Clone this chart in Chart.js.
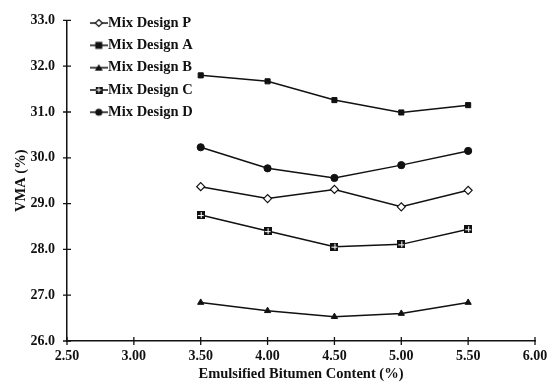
<!DOCTYPE html>
<html>
<head>
<meta charset="utf-8">
<script src="https://cdn.jsdelivr.net/npm/chart.js@4"></script>
<style>
  html, body { margin: 0; padding: 0; background: #fff; }
  #wrap { width: 555px; height: 386px; }
</style>
</head>
<body>
<div id="wrap"><canvas id="vmaChart"></canvas></div>
<script>
// data
const binderContent = [3.5, 4.0, 4.5, 5.0, 5.5];
const mixP = [29.37, 29.11, 29.31, 28.93, 29.29];
const mixA = [31.80, 31.67, 31.26, 30.99, 31.15];
const mixB = [26.84, 26.66, 26.53, 26.60, 26.84];
const mixC = [28.75, 28.40, 28.06, 28.11, 28.44];
const mixD = [30.23, 29.77, 29.56, 29.84, 30.15];
const seriesNames = ["Mix Design P", "Mix Design A", "Mix Design B", "Mix Design C", "Mix Design D"];

const ink = "#111";
const font = "'Liberation Serif', 'Times New Roman', serif";

// marker for Mix Design C: black square with a white cross
function gridSquare(size) {
    const c = document.createElement("canvas");
    c.width = size; c.height = size;
    const g = c.getContext("2d");
    g.fillStyle = ink;
    g.fillRect(0, 0, size, size);
    g.fillStyle = "#fff";
    const m = Math.floor(size / 2);
    g.fillRect(m, 1, 1, size - 2);
    g.fillRect(1, m, size - 2, 1);
    return c;
}

// legend symbol: short line with the marker in the middle
function legendSymbol(style) {
    const c = document.createElement("canvas");
    c.width = 18; c.height = 10;
    const g = c.getContext("2d");
    g.strokeStyle = ink;
    g.lineWidth = 1.5;
    g.beginPath(); g.moveTo(0, 5); g.lineTo(18, 5); g.stroke();
    g.fillStyle = ink;
    g.beginPath();
    if (style === "rectRot") {
        g.fillStyle = "#fff";
        g.moveTo(9, 1.5); g.lineTo(12.5, 5); g.lineTo(9, 8.5); g.lineTo(5.5, 5); g.closePath();
        g.fill(); g.lineWidth = 1.2; g.stroke();
    } else if (style === "rect") {
        g.fillRect(5.5, 1.5, 7, 7);
    } else if (style === "triangle") {
        g.moveTo(9, 1.5); g.lineTo(13, 8); g.lineTo(5, 8); g.closePath(); g.fill();
    } else if (style === "grid") {
        g.drawImage(gridSquare(7), 5.5, 1.5);
    } else {
        g.arc(9, 5, 3.6, 0, Math.PI * 2); g.fill();
    }
    return c;
}

const styles = ["rectRot", "rect", "triangle", "grid", "circle"];
const values = [mixP, mixA, mixB, mixC, mixD];

const datasets = seriesNames.map((name, i) => ({
    label: name,
    data: binderContent.map((x, j) => ({ x: x, y: values[i][j] })),
    borderColor: ink,
    borderWidth: 1.5,
    backgroundColor: styles[i] === "rectRot" ? "#fff" : ink,
    pointBorderColor: ink,
    pointBorderWidth: styles[i] === "rectRot" ? 1.2 : 1,
    pointStyle: styles[i] === "grid" ? gridSquare(8) : styles[i],
    pointRadius: styles[i] === "rectRot" ? 4 : 3.6,
    tension: 0
}));

// move the legend into the upper left corner of the plot
const legendShift = {
    id: "legendShift",
    afterLayout(chart) {
        chart.legend.left += 22;
        chart.legend.top += 8;
    }
};

// tick marks that cross the axis lines
const crossTicks = {
    id: "crossTicks",
    afterDraw(chart) {
        const g = chart.ctx;
        const xs = chart.scales.x, ys = chart.scales.y;
        g.save();
        g.strokeStyle = ink;
        g.lineWidth = 1.3;
        g.beginPath();
        xs.ticks.forEach((t, i) => {
            const px = xs.getPixelForTick(i);
            g.moveTo(px, xs.top - 4); g.lineTo(px, xs.top + 4);
        });
        ys.ticks.forEach((t, i) => {
            const py = ys.getPixelForTick(i);
            g.moveTo(ys.right - 4, py); g.lineTo(ys.right + 4, py);
        });
        g.stroke();
        g.restore();
    }
};

const ctx = document.getElementById("vmaChart").getContext("2d");
const chart = new Chart(ctx, {
    type: "line",
    data: { datasets: datasets },
    plugins: [legendShift, crossTicks],
    options: {
        responsive: true,
        maintainAspectRatio: false,
        animation: false,
        layout: { padding: { top: 18, right: 20, bottom: 0, left: 0 } },
        plugins: {
            tooltip: { enabled: false },
            legend: {
                position: "chartArea",
                align: "start",
                labels: {
                    usePointStyle: true,
                    pointStyleWidth: 4,
                    color: ink,
                    font: { family: font, size: 14.5, weight: "bold" },
                    padding: 7.8,
                    generateLabels: (c) => c.data.datasets.map((ds, i) => ({
                        text: ds.label,
                        pointStyle: legendSymbol(styles[i]),
                        fillStyle: ink,
                        strokeStyle: ink,
                        fontColor: ink,
                        lineWidth: 0,
                        datasetIndex: i
                    }))
                }
            }
        },
        scales: {
            x: {
                type: "linear",
                min: 2.5,
                max: 6.0,
                afterFit: s => { s.height = 45; },
                ticks: {
                    stepSize: 0.5,
                    color: ink,
                    font: { family: font, size: 14, weight: "bold" },
                    callback: v => v.toFixed(2),
                    padding: 7,
                    maxRotation: 0
                },
                grid: { drawOnChartArea: false, drawTicks: false },
                border: { color: ink, width: 1.5 },
                title: {
                    display: true,
                    text: "Emulsified Bitumen Content (%)",
                    color: ink,
                    font: { family: font, size: 14.5, weight: "bold" },
                    padding: { top: 0, bottom: 3 }
                }
            },
            y: {
                min: 26,
                max: 33,
                afterFit: s => { s.width = 67; },
                ticks: {
                    stepSize: 1,
                    color: ink,
                    font: { family: font, size: 14, weight: "bold" },
                    callback: v => v.toFixed(1),
                    padding: 12
                },
                grid: { drawOnChartArea: false, drawTicks: false },
                border: { color: ink, width: 1.5 },
                title: {
                    display: true,
                    text: "VMA (%)",
                    color: ink,
                    font: { family: font, size: 14.5, weight: "bold" },
                    padding: { top: 13, bottom: 0 }
                }
            }
        }
    }
});
</script>
</body>
</html>
